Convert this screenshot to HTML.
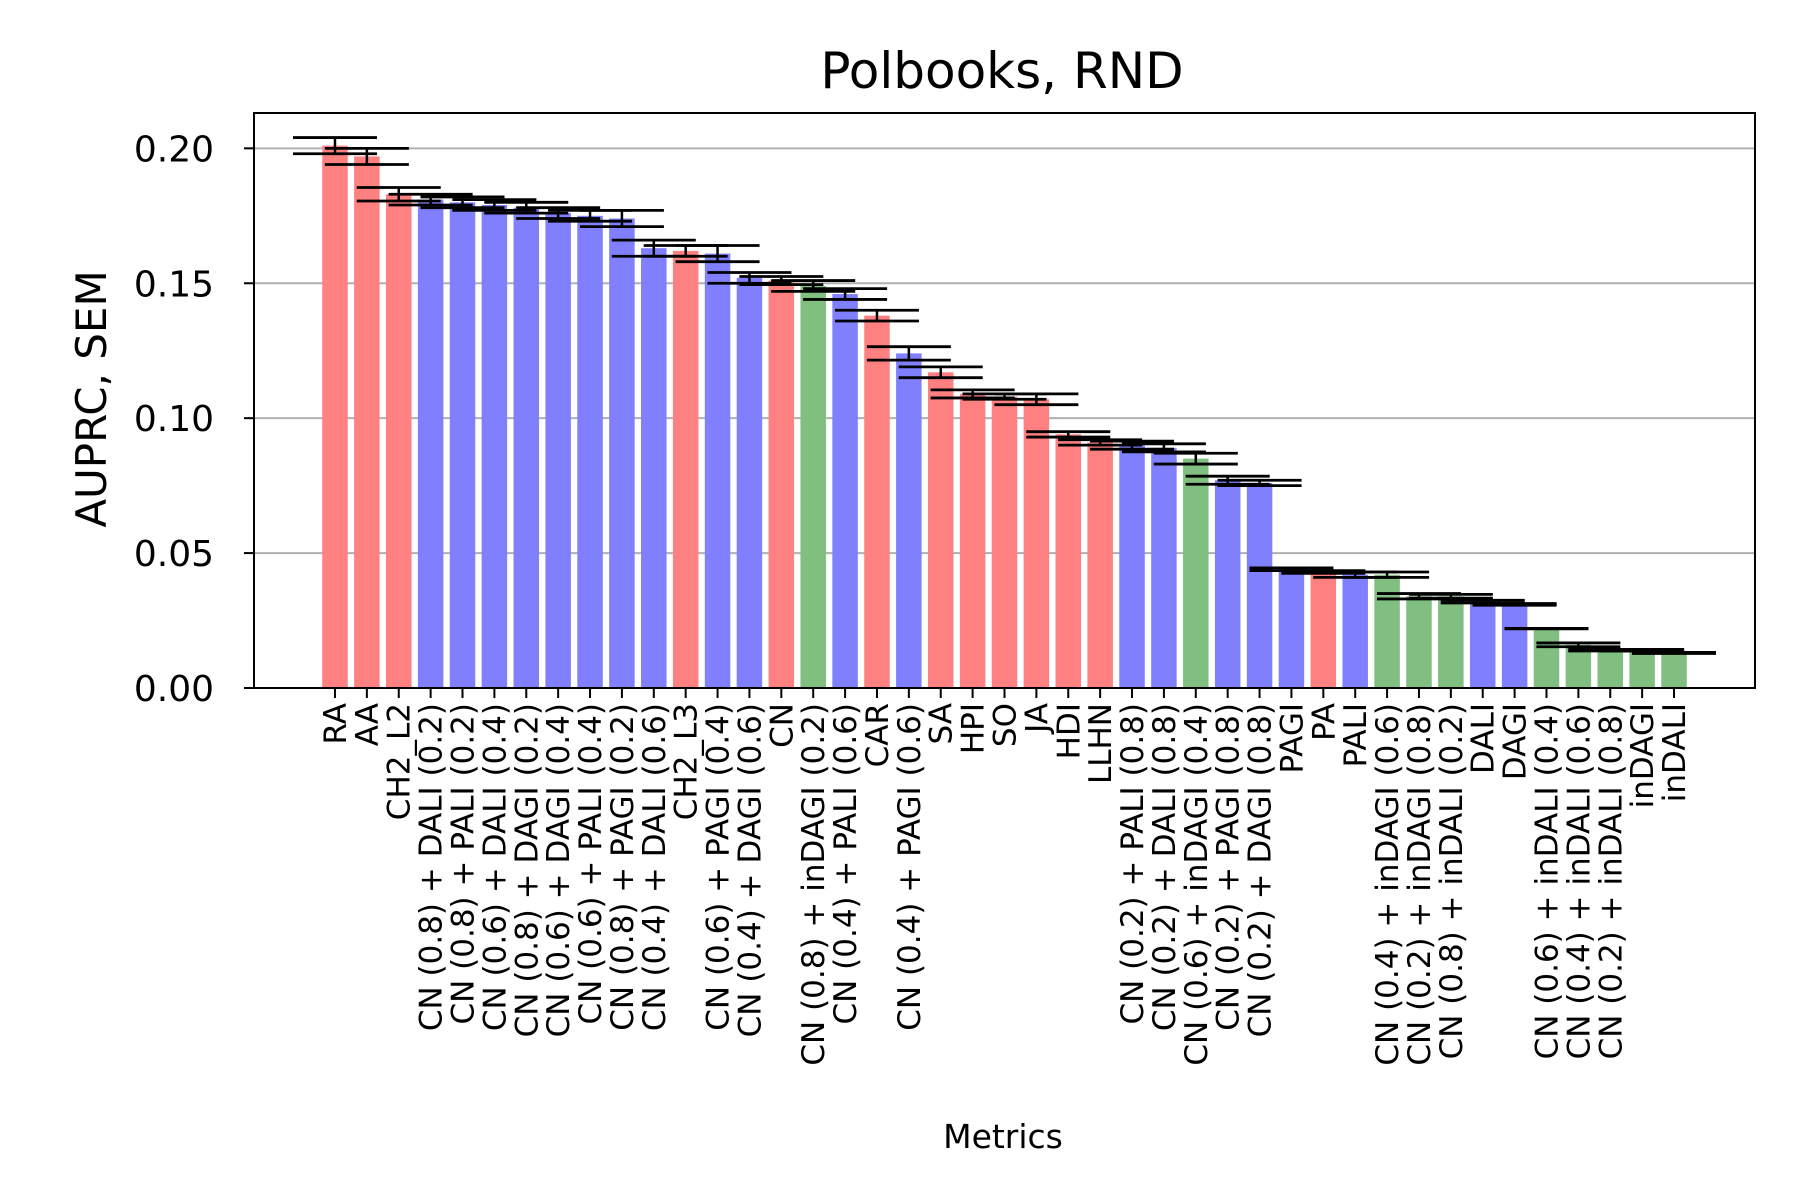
<!DOCTYPE html>
<html><head><meta charset="utf-8"><style>
html,body{margin:0;padding:0;background:#fff;}
svg{display:block;font-family:"DejaVu Sans","Liberation Sans",sans-serif;}
</style></head><body>
<svg id="chart" width="1800" height="1200" viewBox="0 0 1800 1200" xmlns="http://www.w3.org/2000/svg">
<rect width="1800" height="1200" fill="#fff"/>
<text x="1002" y="88" font-size="50" text-anchor="middle" fill="#000">Polbooks, RND</text>
<text transform="translate(106,399) rotate(-90)" font-size="42" text-anchor="middle" fill="#000">AUPRC, SEM</text>
<text x="1003" y="1148" font-size="33" text-anchor="middle" fill="#000">Metrics</text>
<g id="grid"></g><g id="bars"></g><g id="errs"></g><g id="axes"></g>
</svg>
<script>
const categories = ["RA","AA","CH2_L2","CN (0.8) + DALI (0.2)","CN (0.8) + PALI (0.2)","CN (0.6) + DALI (0.4)","CN (0.8) + DAGI (0.2)","CN (0.6) + DAGI (0.4)","CN (0.6) + PALI (0.4)","CN (0.8) + PAGI (0.2)","CN (0.4) + DALI (0.6)","CH2_L3","CN (0.6) + PAGI (0.4)","CN (0.4) + DAGI (0.6)","CN","CN (0.8) + inDAGI (0.2)","CN (0.4) + PALI (0.6)","CAR","CN (0.4) + PAGI (0.6)","SA","HPI","SO","JA","HDI","LLHN","CN (0.2) + PALI (0.8)","CN (0.2) + DALI (0.8)","CN (0.6) + inDAGI (0.4)","CN (0.2) + PAGI (0.8)","CN (0.2) + DAGI (0.8)","PAGI","PA","PALI","CN (0.4) + inDAGI (0.6)","CN (0.2) + inDAGI (0.8)","CN (0.8) + inDALI (0.2)","DALI","DAGI","CN (0.6) + inDALI (0.4)","CN (0.4) + inDALI (0.6)","CN (0.2) + inDALI (0.8)","inDAGI","inDALI"];
const values = [0.201,0.197,0.183,0.181,0.180,0.179,0.178,0.176,0.175,0.174,0.163,0.162,0.161,0.152,0.151,0.149,0.146,0.138,0.124,0.117,0.109,0.108,0.107,0.094,0.091,0.090,0.089,0.085,0.077,0.076,0.044,0.043,0.042,0.042,0.034,0.034,0.032,0.031,0.022,0.016,0.014,0.014,0.013];
const errors = [0.003,0.003,0.0025,0.002,0.002,0.002,0.002,0.002,0.002,0.003,0.003,0.002,0.003,0.002,0.0015,0.002,0.002,0.002,0.0025,0.002,0.0015,0.001,0.002,0.001,0.001,0.0015,0.0015,0.002,0.0015,0.001,0.0005,0.0005,0.001,0.001,0.001,0.0007,0.0005,0.0003,0.0001,0.0007,0.0003,0.0003,0.0002];
const groups = ["r","r","r","b","b","b","b","b","b","b","b","r","b","b","r","g","b","r","b","r","r","r","r","r","r","b","b","g","b","b","b","r","b","g","g","g","b","b","g","g","g","g","g"];
const yTicks = [0,0.05,0.10,0.15,0.20];
const yTickLabels = ["0.00","0.05","0.10","0.15","0.20"];

const NS="http://www.w3.org/2000/svg";
const L=254,R=1755,T=113,B=688;
const n=categories.length;
const xmin=-0.4-0.05*(n-0.2), xmax=(n-1)+0.4+0.05*(n-0.2);
const ymax=0.2131;
function xs(v){return L+(v-xmin)/(xmax-xmin)*(R-L);}
function ys(v){return B-v/ymax*(B-T);}
const colors={r:"#ff8080",b:"#8080ff",g:"#80bf80"};
function mk(tag,attrs,parent){const e=document.createElementNS(NS,tag);for(const k in attrs)e.setAttribute(k,attrs[k]);parent.appendChild(e);return e;}
const grid=document.getElementById('grid'),bars=document.getElementById('bars'),errs=document.getElementById('errs'),axes=document.getElementById('axes');
yTicks.forEach((t,i)=>{
  const g=mk('line',{x1:L,x2:R,y1:ys(t),y2:ys(t),stroke:"#b0b0b0","stroke-width":2},grid);
  
  
  const tk=mk('line',{x1:L-10,x2:L,y1:ys(t),y2:ys(t),stroke:"#000","stroke-width":2},axes);
  
  
  const lb=mk('text',{x:L-40,y:ys(t)+13,"font-size":36,"text-anchor":"end",fill:"#000"},axes);
  lb.textContent=yTickLabels[i];
  
  
});
const bw=(xs(0.8)-xs(0));
categories.forEach((c,i)=>{
  const cx=xs(i);
  const r=mk('rect',{x:cx-bw/2,y:ys(values[i]),width:bw,height:B-ys(values[i]),fill:colors[groups[i]]},bars);
  
  
  const top=ys(values[i]+errors[i]),bot=ys(values[i]-errors[i]);
  const v=mk('line',{x1:cx,x2:cx,y1:top,y2:bot,stroke:"#000","stroke-width":2.5},errs);
  
  
  [top,bot].forEach(yy=>{
    const cap=mk('line',{x1:cx-42,x2:cx+42,y1:yy,y2:yy,stroke:"#000","stroke-width":2.8},errs);
    
    
  });
  const tk=mk('line',{x1:cx,x2:cx,y1:B,y2:B+10,stroke:"#000","stroke-width":2},axes);
  
  
  const lb=mk('text',{transform:`translate(${cx+11},${B+15}) rotate(-90)`,"font-size":31,"text-anchor":"end",fill:"#000"},axes);
  lb.textContent=c;
  
  
});
const fr=mk('rect',{x:L,y:T,width:R-L,height:B-T,fill:"none",stroke:"#000","stroke-width":2},axes);


</script>
</body></html>
